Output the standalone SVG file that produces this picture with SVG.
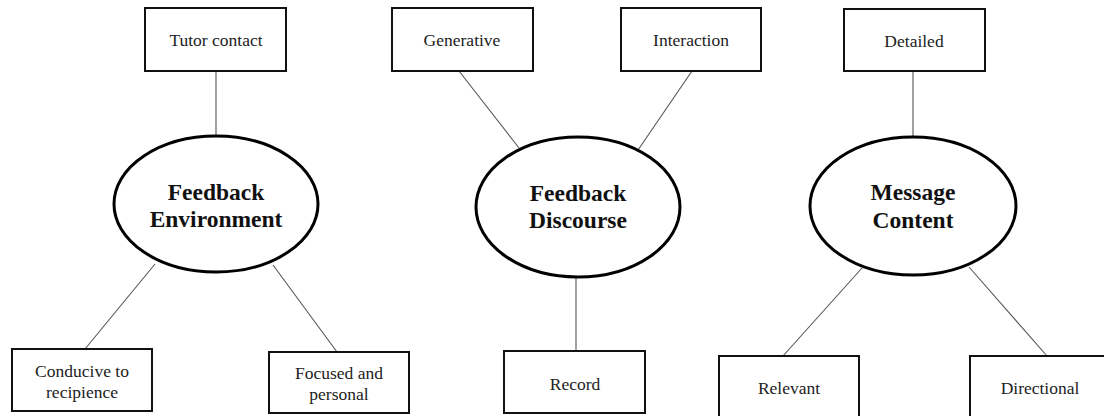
<svg xmlns="http://www.w3.org/2000/svg" width="1104" height="416" viewBox="0 0 1104 416">
<style>
.box{fill:#fff;stroke:#111;stroke-width:2}
.ell{fill:#fff;stroke:#000;stroke-width:3}
.lbl{font-family:"Liberation Serif","Times New Roman",serif;font-size:17.5px;fill:#222;text-anchor:middle}
.hd{font-family:"Liberation Serif","Times New Roman",serif;font-size:23.5px;font-weight:bold;fill:#111;text-anchor:middle}
.con{stroke:#555;stroke-width:1.1;fill:none}
</style>
<rect width="1104" height="416" fill="#fff"/>
<g id="connectors">
<line class="con" x1="216" y1="71" x2="216" y2="136"/>
<line class="con" x1="155" y1="264" x2="85" y2="349"/>
<line class="con" x1="273" y1="265" x2="337" y2="352"/>
<line class="con" x1="459" y1="71" x2="519" y2="148"/>
<line class="con" x1="692" y1="71" x2="638" y2="150"/>
<line class="con" x1="576" y1="277" x2="576" y2="351"/>
<line class="con" x1="913" y1="71" x2="913" y2="137"/>
<line class="con" x1="862" y1="268" x2="783" y2="356"/>
<line class="con" x1="969" y1="267" x2="1047" y2="356"/>
</g>
<g id="tutor-contact">
<rect class="box" x="145" y="8" width="141" height="63"/>
<text class="lbl" x="216" y="46">Tutor contact</text>
</g>
<g id="feedback-environment">
<ellipse class="ell" cx="216" cy="204" rx="102" ry="68"/>
<text class="hd" x="216" y="200">Feedback</text>
<text class="hd" x="216" y="227">Environment</text>
</g>
<g id="conducive">
<rect class="box" x="12" y="349" width="140" height="62"/>
<text class="lbl" x="82" y="377">Conducive to</text>
<text class="lbl" x="82" y="398">recipience</text>
</g>
<g id="focused">
<rect class="box" x="269" y="352" width="140" height="61"/>
<text class="lbl" x="339" y="379">Focused and</text>
<text class="lbl" x="339" y="400">personal</text>
</g>
<g id="generative">
<rect class="box" x="392" y="8" width="141" height="63"/>
<text class="lbl" x="462" y="46">Generative</text>
</g>
<g id="interaction">
<rect class="box" x="621" y="8" width="140" height="63"/>
<text class="lbl" x="691" y="46">Interaction</text>
</g>
<g id="feedback-discourse">
<ellipse class="ell" cx="578" cy="207" rx="102" ry="70"/>
<text class="hd" x="578" y="201">Feedback</text>
<text class="hd" x="578" y="228">Discourse</text>
</g>
<g id="record">
<rect class="box" x="504" y="351" width="141" height="62"/>
<text class="lbl" x="575" y="390">Record</text>
</g>
<g id="detailed">
<rect class="box" x="844" y="9" width="141" height="62"/>
<text class="lbl" x="914" y="47">Detailed</text>
</g>
<g id="message-content">
<ellipse class="ell" cx="913" cy="206" rx="103" ry="69"/>
<text class="hd" x="913" y="200">Message</text>
<text class="hd" x="913" y="228">Content</text>
</g>
<g id="relevant">
<rect class="box" x="719" y="356" width="140" height="70"/>
<text class="lbl" x="789" y="394">Relevant</text>
</g>
<g id="directional">
<rect class="box" x="970" y="356" width="140" height="70"/>
<text class="lbl" x="1040" y="394">Directional</text>
</g>
</svg>
